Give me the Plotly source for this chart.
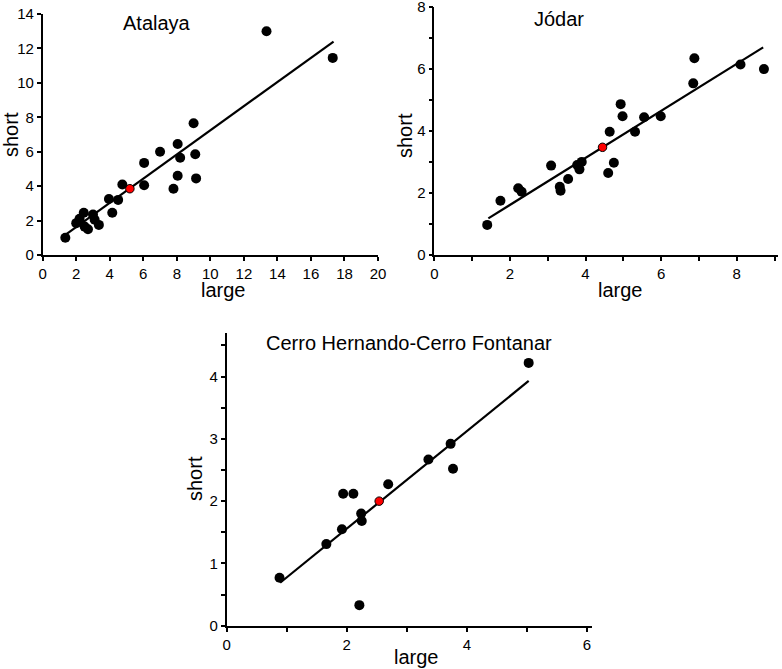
import plotly.graph_objects as go

# ---------------- data ----------------
atalaya_large = [1.35, 2.0, 2.2, 2.45, 2.5, 2.7, 3.0, 3.1, 3.35, 3.95, 4.15, 4.5, 4.75,
                 6.05, 6.05, 7.0, 7.8, 8.05, 8.05, 8.2, 9.0, 9.1, 9.15, 13.35, 17.3]
atalaya_short = [1.0, 1.85, 2.1, 2.45, 1.65, 1.5, 2.35, 2.05, 1.75, 3.25, 2.45, 3.2, 4.1,
                 5.35, 4.05, 6.0, 3.85, 6.45, 4.6, 5.65, 7.65, 5.85, 4.45, 13.0, 11.45]
atalaya_mean = ([5.2], [3.85])
atalaya_fit_x = [1.33, 17.35]
atalaya_fit_y = [1.16, 12.4]

jodar_large = [1.4, 1.75, 2.22, 2.31, 3.09, 3.32, 3.34, 3.54, 3.78, 3.84, 3.9, 4.6, 4.64,
               4.75, 4.93, 4.98, 5.31, 5.55, 5.99, 6.85, 6.88, 8.1, 8.72]
jodar_short = [0.97, 1.75, 2.15, 2.04, 2.88, 2.2, 2.07, 2.45, 2.9, 2.76, 3.0, 2.64, 3.97,
               2.97, 4.86, 4.47, 3.97, 4.44, 4.47, 5.53, 6.34, 6.14, 5.99]
jodar_mean = ([4.45], [3.47])
jodar_fit_x = [1.43, 8.7]
jodar_fit_y = [1.18, 6.69]

cerro_large = [0.88, 1.66, 1.92, 1.94, 2.11, 2.24, 2.25, 2.21, 2.69, 3.36, 3.73, 3.77, 5.03]
cerro_short = [0.77, 1.31, 1.55, 2.12, 2.12, 1.8, 1.68, 0.33, 2.27, 2.67, 2.92, 2.52, 4.22]
cerro_mean = ([2.54], [2.0])
cerro_fit_x = [0.89, 5.03]
cerro_fit_y = [0.69, 3.93]

titles = ["Atalaya", "Jódar", "Cerro Hernando-Cerro Fontanar"]

# ---------------- figure ----------------
W, H = 782, 669
FONT = "Liberation Sans, Arial, sans-serif"

fig = go.Figure()

panels = [
    ("x", "y", atalaya_large, atalaya_short, atalaya_mean, atalaya_fit_x, atalaya_fit_y),
    ("x2", "y2", jodar_large, jodar_short, jodar_mean, jodar_fit_x, jodar_fit_y),
    ("x3", "y3", cerro_large, cerro_short, cerro_mean, cerro_fit_x, cerro_fit_y),
]

for xa, ya, lx, sy, mean, fx, fy in panels:
    fig.add_trace(go.Scatter(x=fx, y=fy, mode="lines", xaxis=xa, yaxis=ya,
                             line=dict(color="black", width=2.2), showlegend=False,
                             hoverinfo="skip", cliponaxis=False))
    fig.add_trace(go.Scatter(x=lx, y=sy, mode="markers", xaxis=xa, yaxis=ya,
                             marker=dict(color="black", size=10), showlegend=False,
                             cliponaxis=False))
    fig.add_trace(go.Scatter(x=mean[0], y=mean[1], mode="markers", xaxis=xa, yaxis=ya,
                             marker=dict(color="#ff0000", size=8.5,
                                         line=dict(color="black", width=1)),
                             showlegend=False, cliponaxis=False))

def px_x(p):
    return p / W

def px_y(p):
    return 1 - p / H

tickfont = dict(family=FONT, size=15, color="black")
common = dict(showline=True, linecolor="black", linewidth=1.6, ticks="outside",
              ticklen=4, tickwidth=1.6, tickcolor="black", showgrid=False,
              zeroline=False, tickfont=tickfont, fixedrange=True, automargin=False,
              ticklabeloverflow="allow")
minor = dict(ticks="outside", ticklen=4, tickwidth=1.6, tickcolor="black", showgrid=False)

fig.update_layout(
    template="none",
    width=W, height=H,
    margin=dict(l=0, r=0, t=0, b=0, autoexpand=False),
    plot_bgcolor="white", paper_bgcolor="white",
    xaxis=dict(domain=[px_x(42.7), px_x(378)], range=[0, 20], dtick=2, anchor="y", **common),
    yaxis=dict(domain=[px_y(255), px_y(14)], range=[0, 14], dtick=2, anchor="x", **common),
    xaxis2=dict(domain=[px_x(434.3), px_x(778.3)], range=[0, 9.1], dtick=2, anchor="y2",
                minor=dict(dtick=1, **minor), **common),
    yaxis2=dict(domain=[px_y(255), px_y(6.7)], range=[0, 8.0001], dtick=2, anchor="x2",
                minor=dict(dtick=1, **minor), **common),
    xaxis3=dict(domain=[px_x(226.7), px_x(591.7)], range=[0, 6.08], dtick=2, anchor="y3",
                minor=dict(dtick=1, **minor), **common),
    yaxis3=dict(domain=[px_y(625.7), px_y(333)], range=[0, 4.7], dtick=1, anchor="x3",
                minor=dict(dtick=0.5, **minor), **common),
)

def ann(text, x, y, size, angle=0):
    fig.add_annotation(text=text, x=px_x(x), y=px_y(y), xref="paper", yref="paper",
                       showarrow=False, textangle=angle,
                       font=dict(family=FONT, size=size, color="black"),
                       xanchor="center", yanchor="middle")

# panel titles
ann(titles[0], 157, 23, 20)
ann(titles[1], 559, 19, 20)
ann(titles[2], 409, 343, 20)
# axis titles
ann("large", 223, 290, 20)
ann("short", 11, 135, 20, -90)
ann("large", 620, 290, 20)
ann("short", 405, 136, 20, -90)
ann("large", 416, 657, 20)
ann("short", 195, 479, 20, -90)

fig.write_html(
    "out.html",
    config={"displayModeBar": False},
    post_script="document.body.style.margin='0';document.body.style.overflow='hidden';",
)
